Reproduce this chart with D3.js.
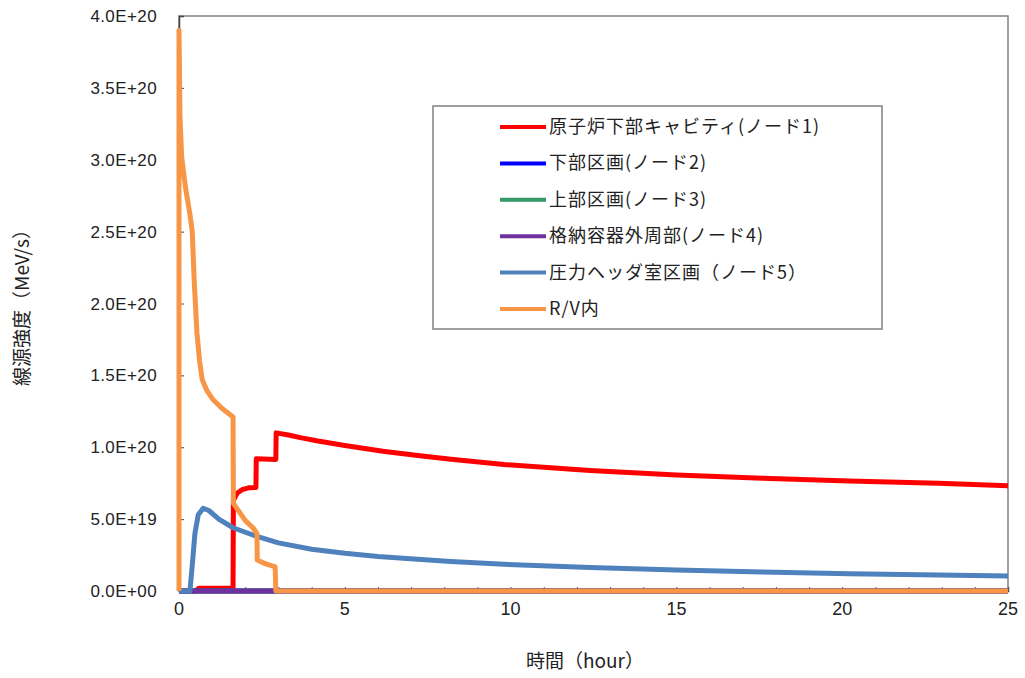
<!DOCTYPE html>
<html>
<head>
<meta charset="utf-8">
<script src="https://cdn.jsdelivr.net/npm/d3@7"></script>
<style>
  body { margin: 0; background: #fff; }
  svg { display: block; }
  .tick-y { font-family: "Liberation Sans", Arial, sans-serif; font-size: 17px; letter-spacing: 0.4px; fill: #222; }
  .tick-x { font-family: "Liberation Sans Narrow", "Liberation Sans", Arial, sans-serif; font-size: 18px; fill: #222; }
  .jp { font-family: "Noto Sans CJK JP", sans-serif; fill: #222; }
</style>
</head>
<body>
<svg id="chart" width="1025" height="678"></svg>
<script>
// values are in units of 1e20 MeV/s, time in hours
const seriesNames = [
  "原子炉下部キャビティ(ノード1)",
  "下部区画(ノード2)",
  "上部区画(ノード3)",
  "格納容器外周部(ノード4)",
  "圧力ヘッダ室区画（ノード5）",
  "R/V内"
];
const seriesColors = ["#ff0000", "#0000ff", "#339966", "#7030a0", "#4f81bd", "#f79646"];

const node1T = [0, 0.5, 0.6, 1.63, 1.64, 1.75, 1.9, 2.1, 2.32, 2.33, 2.92, 2.93, 3.3, 3.7, 4.15, 5, 6.15, 7.2, 8.2, 9.8, 12.4, 15, 17.6, 20.2, 22.9, 25];
const node1V = [0, 0, 0.02, 0.02, 0.63, 0.68, 0.705, 0.718, 0.72, 0.92, 0.915, 1.10, 1.085, 1.065, 1.045, 1.012, 0.972, 0.942, 0.916, 0.88, 0.838, 0.807, 0.784, 0.765, 0.749, 0.733];

const node2T = [0, 25];
const node2V = [0, 0];

const node3T = [0, 25];
const node3V = [0, 0];

const node4T = [0, 2.93, 25];
const node4V = [0, 0, 0];

const node5T = [0, 0.33, 0.4, 0.48, 0.58, 0.73, 0.9, 1.2, 1.63, 2.35, 3, 4, 5, 6, 7.2, 8.2, 9.8, 12.4, 15, 17.6, 20.2, 22.9, 25];
const node5V = [0, 0, 0.18, 0.4, 0.53, 0.575, 0.56, 0.5, 0.44, 0.38, 0.335, 0.29, 0.262, 0.24, 0.221, 0.205, 0.186, 0.164, 0.146, 0.132, 0.12, 0.111, 0.104];

const rvT = [0, 0, 0.03, 0.08, 0.2, 0.33, 0.4, 0.46, 0.54, 0.62, 0.7, 0.85, 1.03, 1.3, 1.63, 1.64, 2.0, 2.23, 2.35, 2.36, 2.6, 2.9, 2.92, 25];
const rvV = [0, 3.9, 3.3, 3.02, 2.8, 2.62, 2.5, 2.15, 1.8, 1.6, 1.47, 1.39, 1.33, 1.27, 1.21, 0.61, 0.49, 0.44, 0.40, 0.216, 0.19, 0.167, 0, 0];

const allT = [node1T, node2T, node3T, node4T, node5T, rvT];
const allV = [node1V, node2V, node3V, node4V, node5V, rvV];

const yTicks = [0, 0.5, 1, 1.5, 2, 2.5, 3, 3.5, 4];
const xTicks = [0, 5, 10, 15, 20, 25];

const plot = { left: 179, right: 1008, top: 16, bottom: 591 };

const svg = d3.select("#chart");
const x = d3.scaleLinear().domain([0, 25]).range([plot.left, plot.right]);
const y = d3.scaleLinear().domain([0, 4]).range([plot.bottom, plot.top]);

function sci(v) {
  const s = (v * 1e20).toExponential(1).toUpperCase();
  return s.replace(/E([+-])(\d)$/, "E$10$2");
}

// frame
svg.append("rect")
  .attr("x", plot.left).attr("y", plot.top)
  .attr("width", plot.right - plot.left).attr("height", plot.bottom - plot.top)
  .attr("fill", "none").attr("stroke", "#808080").attr("stroke-width", 1.5);

// y axis (ticks inside)
const yAxis = svg.append("g")
  .attr("transform", `translate(${plot.left},0)`)
  .call(d3.axisRight(y).tickValues(yTicks).tickSize(5).tickFormat(""));
yAxis.select(".domain").attr("stroke", "#444").attr("stroke-width", 1.5);
yAxis.selectAll(".tick line").attr("stroke", "#444");

svg.append("g").selectAll("text")
  .data(yTicks)
  .join("text")
  .attr("class", "tick-y")
  .attr("x", plot.left - 22)
  .attr("y", d => y(d) + 6)
  .attr("text-anchor", "end")
  .text(sci);

// x axis minor ticks every hour, inside
const xAxis = svg.append("g")
  .attr("transform", `translate(0,${plot.bottom})`)
  .call(d3.axisTop(x).ticks(25).tickSize(4).tickFormat(""));
xAxis.select(".domain").attr("stroke", "#444").attr("stroke-width", 1.5);
xAxis.selectAll(".tick line").attr("stroke", "#555");

svg.append("g").selectAll("text")
  .data(xTicks)
  .join("text")
  .attr("class", "tick-x")
  .attr("x", d => x(d))
  .attr("y", plot.bottom + 24)
  .attr("text-anchor", "middle")
  .text(d => d);

// axis titles
svg.append("text")
  .attr("class", "jp")
  .attr("x", 585).attr("y", 668)
  .attr("text-anchor", "middle")
  .style("font-size", "19px")
  .text("時間（hour）");

svg.append("text")
  .attr("class", "jp")
  .attr("transform", "translate(29,303) rotate(-90)")
  .attr("text-anchor", "middle")
  .style("font-size", "19px")
  .text("線源強度（MeV/s）");

// series
const line = d3.line().x(d => x(d[0])).y(d => y(d[1]));
const lines = svg.append("g");
allT.forEach((ts, i) => {
  const pts = ts.map((t, k) => [t, allV[i][k]]);
  lines.append("path")
    .datum(pts)
    .attr("fill", "none")
    .attr("stroke", seriesColors[i])
    .attr("stroke-width", 5)
    .attr("stroke-linejoin", "round")
    .attr("d", line);
});

// legend
const legend = svg.append("g");
legend.append("rect")
  .attr("x", 433).attr("y", 106).attr("width", 449).attr("height", 223)
  .attr("fill", "#fff").attr("stroke", "#808080").attr("stroke-width", 1.5);

const rowY = d3.scalePoint().domain(d3.range(6)).range([127, 309]);
const rows = legend.selectAll("g.row")
  .data(seriesNames)
  .join("g")
  .attr("class", "row")
  .attr("transform", (d, i) => `translate(0,${rowY(i)})`);
rows.append("line")
  .attr("x1", 500).attr("x2", 546)
  .attr("stroke", (d, i) => seriesColors[i])
  .attr("stroke-width", 4);
rows.append("text")
  .attr("class", "jp")
  .attr("x", 549).attr("y", 6)
  .style("font-size", "18px")
  .style("letter-spacing", "1px")
  .text(d => d);
</script>
</body>
</html>
